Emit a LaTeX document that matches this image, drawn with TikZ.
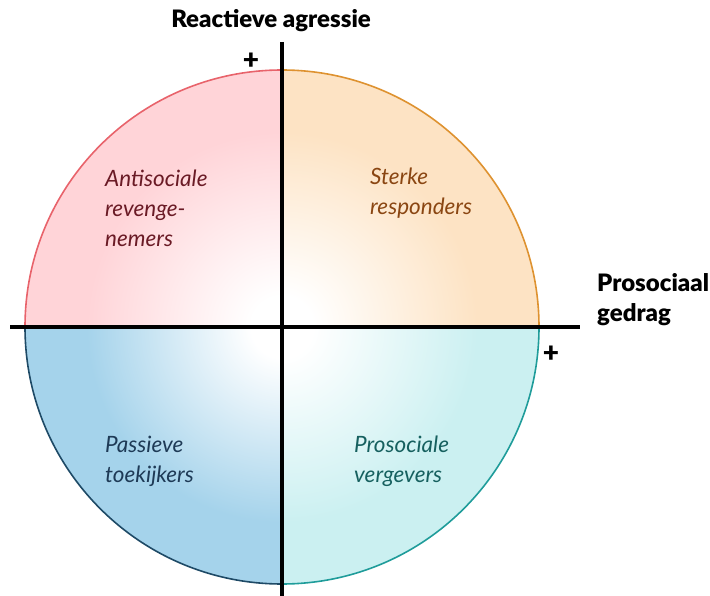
\documentclass[tikz,border=0pt]{standalone}
\usepackage{fontspec}
\setmainfont{Lato}
\newfontfamily\heavyfont{Lato Black}

% Kleuren van de kwadranten
\definecolor{fillred}{HTML}{FFD4D8}
\definecolor{fillorange}{HTML}{FDE3C4}
\definecolor{fillblue}{HTML}{A5D3EB}
\definecolor{fillteal}{HTML}{CBF0F1}
\definecolor{edgered}{HTML}{E8636B}
\definecolor{edgeorange}{HTML}{DE9230}
\definecolor{edgeblue}{HTML}{1E4A66}
\definecolor{edgeteal}{HTML}{1F9C9A}
\definecolor{textred}{HTML}{6A1A25}
\definecolor{textorange}{HTML}{8A4612}
\definecolor{textblue}{HTML}{1E3A56}
\definecolor{textteal}{HTML}{16605F}

% Witte gloed in het midden
\pgfdeclareradialshading{glowred}{\pgfpoint{0bp}{0bp}}{color(0bp)=(white); color(3bp)=(white); color(19bp)=(fillred); color(50bp)=(fillred)}
\pgfdeclareradialshading{gloworange}{\pgfpoint{0bp}{0bp}}{color(0bp)=(white); color(3bp)=(white); color(19bp)=(fillorange); color(50bp)=(fillorange)}
\pgfdeclareradialshading{glowblue}{\pgfpoint{0bp}{0bp}}{color(0bp)=(white); color(3bp)=(white); color(19bp)=(fillblue); color(50bp)=(fillblue)}
\pgfdeclareradialshading{glowteal}{\pgfpoint{0bp}{0bp}}{color(0bp)=(white); color(3bp)=(white); color(19bp)=(fillteal); color(50bp)=(fillteal)}

\tikzset{
    axis/.style={line width=4pt, black},
    axislabel/.style={font=\heavyfont\fontsize{24}{30}\selectfont, inner sep=0pt},
    quadlabel/.style={anchor=north west, align=left, inner sep=0pt, font=\itshape\fontsize{22.5}{30}\selectfont}
}

\begin{document}
\begin{tikzpicture}[x=1pt, y=-1pt]
    \useasboundingbox (0,0) rectangle (710,596);

    % Middelpunt en randen
    \coordinate (center) at (282,327);
    \coordinate (topleft) at (20,65);
    \coordinate (topright) at (545,65);
    \coordinate (bottomleft) at (20,590);
    \coordinate (bottomright) at (545,590);

    % Kwadranten
    \begin{scope}
        \clip (center) rectangle (topleft);
        \shade[shading=glowred] (center) circle (257);
        \draw[edgered, line width=1.6pt] (center) circle (257);
    \end{scope}
    \begin{scope}
        \clip (center) rectangle (topright);
        \shade[shading=gloworange] (center) circle (257);
        \draw[edgeorange, line width=1.6pt] (center) circle (257);
    \end{scope}
    \begin{scope}
        \clip (center) rectangle (bottomleft);
        \shade[shading=glowblue] (center) circle (257);
        \draw[edgeblue, line width=1.6pt] (center) circle (257);
    \end{scope}
    \begin{scope}
        \clip (center) rectangle (bottomright);
        \shade[shading=glowteal] (center) circle (257);
        \draw[edgeteal, line width=1.6pt] (center) circle (257);
    \end{scope}

    % Assen
    \coordinate (xstart) at (10,327);
    \coordinate (xend) at (580,327);
    \coordinate (ystart) at (282,42);
    \coordinate (yend) at (282,596);
    \draw[axis] (xstart) -- (xend);
    \draw[axis] (ystart) -- (yend);

    % Aslabels
    \node[axislabel, anchor=base] (yaxis) at (271,28) {Reactieve agressie};
    \node[axislabel, font=\heavyfont\fontsize{28}{30}\selectfont] (yplus) at (251,61) {+};
    \node[axislabel, anchor=base west, align=left] (xaxis) at (597,322) {Prosociaal\\gedrag};
    \node[axislabel, font=\heavyfont\fontsize{28}{30}\selectfont] (xplus) at (551,354) {+};

    % Kwadrantlabels
    \node[quadlabel, textred] (antisocial) at (105,170) {Antisociale\\revenge-\\nemers};
    \node[quadlabel, textorange] (strong) at (370,168) {Sterke\\responders};
    \node[quadlabel, textblue] (passive) at (105,436) {Passieve\\toekijkers};
    \node[quadlabel, textteal] (prosocial) at (354,436) {Prosociale\\vergevers};
\end{tikzpicture}
\end{document}
